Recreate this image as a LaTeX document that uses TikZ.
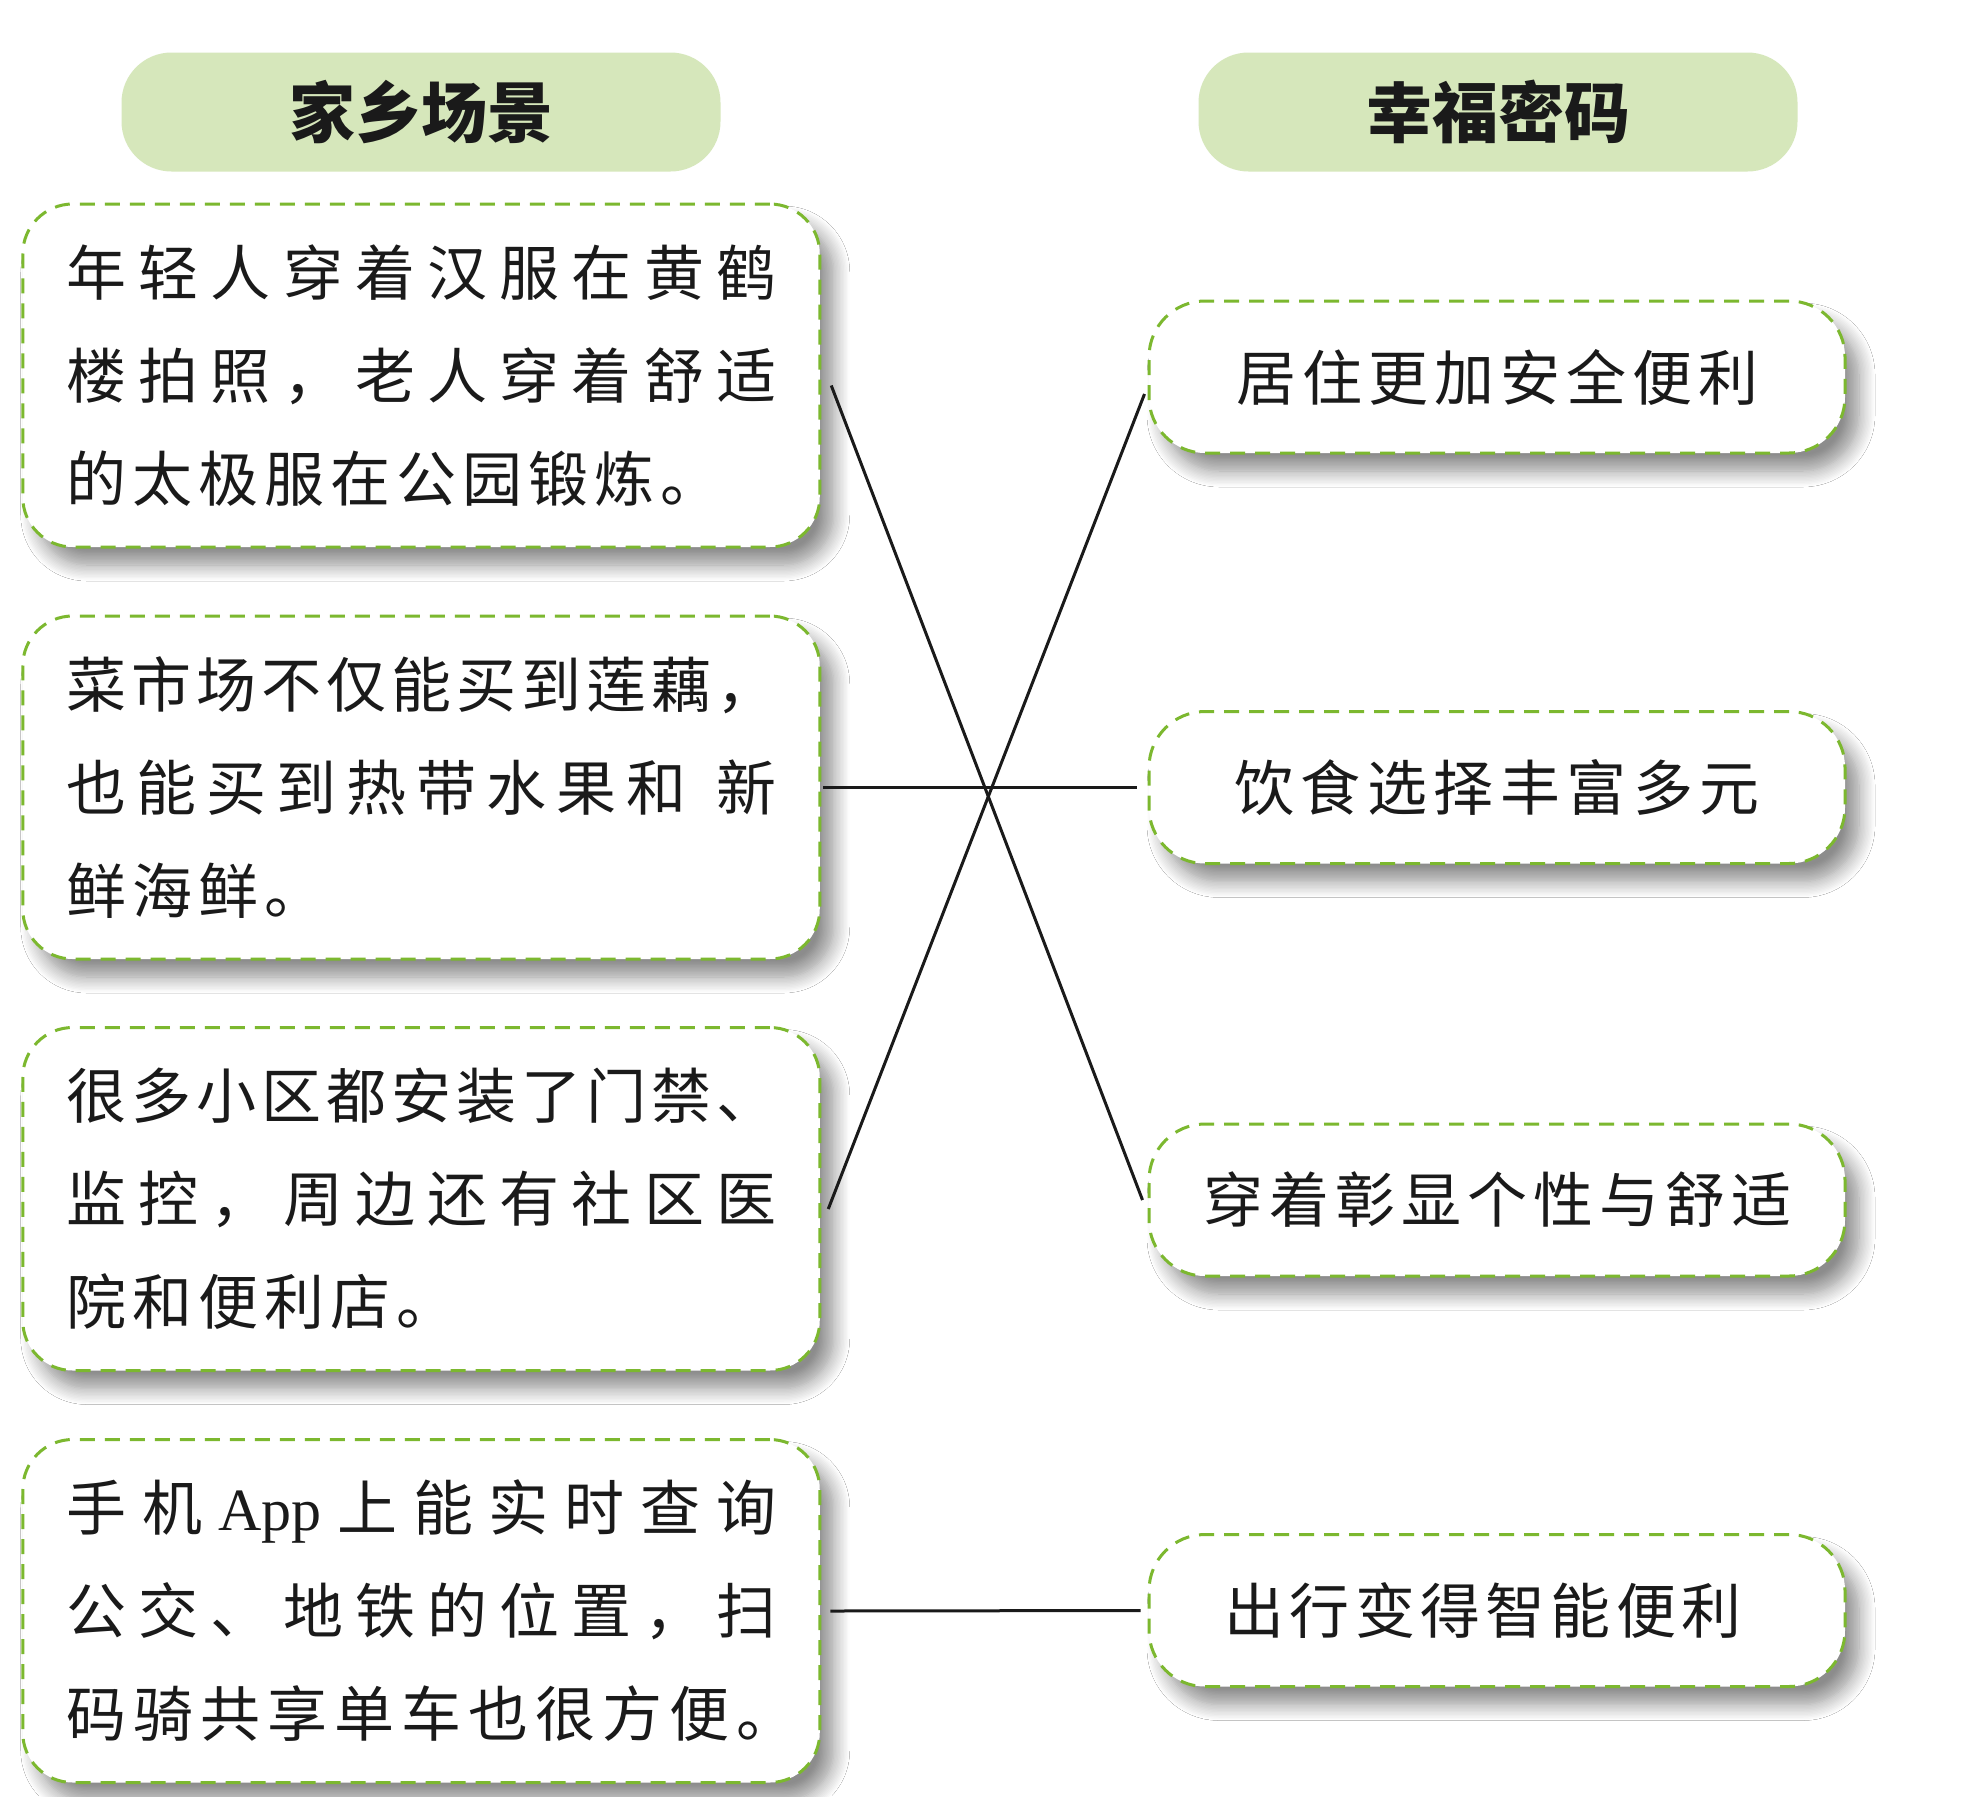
\documentclass[tikz,border=0pt]{standalone}
\usepackage{fontspec}
\setmainfont{Noto Sans CJK SC}
\newfontfamily\cjk{Noto Sans CJK SC}
\newfontfamily\lat{Liberation Serif}
\usetikzlibrary{shadows.blur}
\definecolor{dashgreen}{RGB}{124,184,47}
\definecolor{headfill}{RGB}{214,231,187}
\definecolor{inkc}{RGB}{26,26,26}
\def\sprA#1{\ifx\relax#1\else#1\expandafter\sprB\fi}
\def\sprB#1{\ifx\relax#1\else\hfil#1\expandafter\sprB\fi}
\newcommand\spr[2]{\makebox[#1pt][s]{\sprA#2\relax}}
\def\App{{\lat App}}
\tikzset{
  shad/.style={blur shadow={shadow xshift=14pt, shadow yshift=-18pt, shadow blur radius=16pt, shadow blur steps=12, shadow opacity=45}},
  lbox/.style={shad, draw=dashgreen, line width=3pt, dash pattern=on 15pt off 10pt, fill=white,
    rounded corners=50pt, minimum width=797pt, minimum height=343pt, inner sep=0pt},
  rbox/.style={shad, draw=dashgreen, line width=3pt, dash pattern=on 15pt off 10pt, fill=white,
    rounded corners=56pt, minimum width=696pt, minimum height=152pt, inner sep=0pt},
  head/.style={fill=headfill, rounded corners=50pt, minimum width=599pt, minimum height=119pt,
    inner sep=0pt, text=inkc, font=\cjk\bfseries\fontsize{66}{66}\selectfont},
  ltext/.style={anchor=west, align=left, inner sep=0pt, text=inkc, font=\cjk\fontsize{60}{103}\selectfont},
  rtext/.style={inner sep=0pt, text=inkc, font=\cjk\fontsize{60}{72}\selectfont},
  link/.style={draw=inkc, line width=3pt},
}
\begin{document}
\begin{tikzpicture}[x=1pt,y=-1pt]
\useasboundingbox (0,0) rectangle (1964,1796);
\fill[white] (0,0) rectangle (1964,1796);
% headers
\node[head] (h1) at (421,112) {家乡场景};
\node[head] (h2) at (1498,112) {幸福密码};
% left boxes
\node[lbox] (b1) at (421.25,375.5) {};
\node[lbox] (b2) at (421.25,787.5) {};
\node[lbox] (b3) at (421.25,1199) {};
\node[lbox] (b4) at (421.25,1611) {};
% right boxes
\node[rbox] (r1) at (1497,377) {};
\node[rbox] (r2) at (1497,787.5) {};
\node[rbox] (r3) at (1497,1200) {};
\node[rbox] (r4) at (1497,1610.5) {};
% left texts
\node[ltext] (t1) at ([xshift=45pt]b1.west) {\spr{710}{年轻人穿着汉服在黄鹤}\\\spr{710}{楼拍照，老人穿着舒适}\\\spr{654}{的太极服在公园锻炼。}};
\node[ltext] (t2) at ([xshift=45pt]b2.west) {\spr{710}{菜市场不仅能买到莲藕，}\\\spr{710}{也能买到热带水果{和\hspace{20pt}}新}\\\spr{258}{鲜海鲜。}};
\node[ltext] (t3) at ([xshift=45pt]b3.west) {\spr{710}{很多小区都安装了门禁、}\\\spr{710}{监控，周边还有社区医}\\\spr{390}{院和便利店。}};
\node[ltext] (t4) at ([xshift=45pt]b4.west) {\spr{710}{手机{\App}上能实时查询}\\\spr{710}{公交、地铁的位置，扫}\\\spr{730}{码骑共享单车也很方便。}};
% right texts
\node[rtext] (s1) at (r1.center) {\spr{522}{居住更加安全便利}};
\node[rtext] (s2) at (r2.center) {\spr{526}{饮食选择丰富多元}};
\node[rtext] (s3) at (r3.center) {\spr{588}{穿着彰显个性与舒适}};
\node[rtext] (s4) at ([xshift=-14pt]r4.center) {\spr{517}{出行变得智能便利}};
% connectors
\draw[link] ([xshift=10pt,yshift=-10pt]b1.east) -- ([xshift=-5pt]r3.west);
\draw[link] ([xshift=2pt]b2.east) -- ([xshift=-11pt]r2.west);
\draw[link] ([xshift=7pt,yshift=-10pt]b3.east) -- ([xshift=-3pt,yshift=-17pt]r1.west);
\draw[link] ([xshift=9pt]b4.east) -- ([xshift=-7pt]r4.west);
\end{tikzpicture}
\end{document}
